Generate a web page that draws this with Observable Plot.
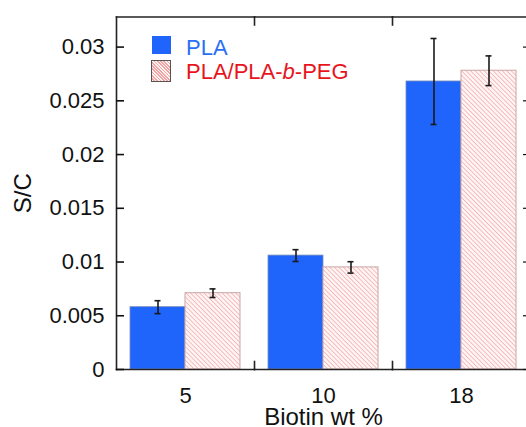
<!DOCTYPE html>
<html>
<head>
<meta charset="utf-8">
<script src="https://cdn.jsdelivr.net/npm/d3@7"></script>
<script src="https://cdn.jsdelivr.net/npm/@observablehq/plot@0.6"></script>
<style>
  html, body { margin: 0; padding: 0; background: #fff; overflow: hidden; }
  #wrap { position: relative; width: 526px; height: 427px; overflow: hidden;
          font-family: "Liberation Sans", Arial, sans-serif; }
  #wrap svg { display: block; }
  .sw { position: absolute; box-sizing: border-box; }
  .lt { position: absolute; font-size: 22px; line-height: 22px; white-space: nowrap; }
</style>
</head>
<body>
<div id="wrap"></div>
<script>
// ---- data ----
const groups = ["5", "10", "18"];
const series = ["PLA", "PLA/PLA-b-PEG"];
const plaValues = [0.0058, 0.0106, 0.0268];
const plaErrors = [0.0006, 0.00055, 0.0040];
const pegValues = [0.0071, 0.0095, 0.0278];
const pegErrors = [0.0004, 0.00053, 0.00138];
const yTicks = [0, 0.005, 0.01, 0.015, 0.02, 0.025, 0.03];
const yTickLabels = ["0", "0.005", "0.01", "0.015", "0.02", "0.025", "0.03"];

const rows = groups.flatMap((g, i) => [
  {group: g, series: series[0], value: plaValues[i], err: plaErrors[i]},
  {group: g, series: series[1], value: pegValues[i], err: pegErrors[i]}
]);
const plaRows = rows.filter(d => d.series === series[0]);
const pegRows = rows.filter(d => d.series === series[1]);

const W = 526, H = 427, mT = 16.5, mB = 58, mL = 115, mR = -5;
const plotH = H - mT - mB;
const blue = "#1f64fb";

const chart = Plot.plot({
  width: W, height: H,
  marginTop: mT, marginBottom: mB, marginLeft: mL, marginRight: mR,
  style: {fontFamily: "Liberation Sans, Arial, sans-serif", fontSize: "22px", color: "#111", background: "#fff"},
  fx: {domain: groups, padding: 0},
  x: {domain: series, paddingInner: 0, paddingOuter: 0.25, axis: null},
  y: {domain: [0, 0.0328]},
  marks: [
    Plot.barY(plaRows, {fx: "group", x: "series", y: "value", fill: blue, stroke: "#7a8fb8", strokeWidth: 0.8}),
    Plot.barY(pegRows, {fx: "group", x: "series", y: "value", fill: "url(#hatch)", stroke: "#c9a5a5", strokeWidth: 1}),
    Plot.ruleX(rows, {fx: "group", x: "series", y1: d => d.value - d.err, y2: d => d.value + d.err, stroke: "#1a1a1a", strokeWidth: 1.6}),
    Plot.tickY(rows, {fx: "group", x: "series", y: d => d.value - d.err, stroke: "#1a1a1a", strokeWidth: 1.6, insetLeft: 24.5, insetRight: 24.5}),
    Plot.tickY(rows, {fx: "group", x: "series", y: d => d.value + d.err, stroke: "#1a1a1a", strokeWidth: 1.6, insetLeft: 24.5, insetRight: 24.5}),
    Plot.frame({anchor: "top", stroke: "#222", strokeWidth: 1.6}),
    Plot.frame({anchor: "bottom", stroke: "#222", strokeWidth: 1.6}),
    Plot.frame({anchor: "left", facetAnchor: "left", stroke: "#222", strokeWidth: 1.6}),
    Plot.frame({anchor: "right", insetBottom: plotH - 8, stroke: "#222", strokeWidth: 1.6}),
    Plot.frame({anchor: "right", insetTop: plotH - 8, stroke: "#222", strokeWidth: 1.6}),
    Plot.axisY({anchor: "left", ticks: yTicks, tickSize: -8, tickPadding: 20, fontSize: 22,
      tickFormat: d => yTickLabels[yTicks.indexOf(d)], strokeWidth: 1.6,
      label: "S/C", labelAnchor: "center", labelOffset: 103, labelArrow: "none"}),
    Plot.axisY({anchor: "right", ticks: yTicks, tickSize: -8, strokeWidth: 1.2, tickFormat: () => "", label: null}),
    Plot.axisFx({anchor: "bottom", tickSize: 0, tickPadding: 18, fontSize: 22,
      label: "Biotin wt %", labelAnchor: "center", labelOffset: 55, labelArrow: "none"})
  ]
});

// hatch pattern for the second series
const ns = "http://www.w3.org/2000/svg";
const svg = chart.tagName.toLowerCase() === "svg" ? chart : chart.querySelector("svg");
const defs = document.createElementNS(ns, "defs");
defs.innerHTML = `
  <pattern id="hatch" patternUnits="userSpaceOnUse" width="3.2" height="3.2" patternTransform="rotate(-45)">
    <rect width="3.2" height="3.2" fill="#fff4f4"></rect>
    <line x1="0" y1="0" x2="0" y2="3.2" stroke="#f2a3a3" stroke-width="1.3"></line>
  </pattern>`;
svg.insertBefore(defs, svg.firstChild);

// larger axis titles
svg.querySelectorAll('g[aria-label="y-axis label"], g[aria-label="fx-axis label"]').forEach(g => {
  g.setAttribute("font-size", "24");
  g.querySelectorAll("text").forEach(t => t.setAttribute("font-size", "24"));
});

const wrap = document.getElementById("wrap");
wrap.appendChild(chart);

// legend drawn inside the plot area
const legend = [
  {html: "PLA", color: "#2a6ff8", sw: {left: 152, top: 36, w: 19, h: 18, border: "none"}, text: {left: 186, top: 37}},
  {html: "PLA/PLA-<i>b</i>-PEG", color: "#e8141c", sw: {left: 151, top: 60, w: 20, h: 22, border: "1.5px solid #555"}, text: {left: 186, top: 61}}
];
legend.forEach((l, i) => {
  const s = document.createElement("div");
  s.className = "sw";
  Object.assign(s.style, {left: l.sw.left + "px", top: l.sw.top + "px", width: l.sw.w + "px", height: l.sw.h + "px", border: l.sw.border});
  s.style.background = i === 0 ? blue
    : "repeating-linear-gradient(45deg, #fff4f4 0px, #fff4f4 1.2px, #f2a3a3 1.2px, #f2a3a3 2.3px)";
  wrap.appendChild(s);
  const t = document.createElement("div");
  t.className = "lt";
  t.innerHTML = l.html;
  Object.assign(t.style, {left: l.text.left + "px", top: l.text.top + "px", color: l.color});
  wrap.appendChild(t);
});
</script>
</body>
</html>
